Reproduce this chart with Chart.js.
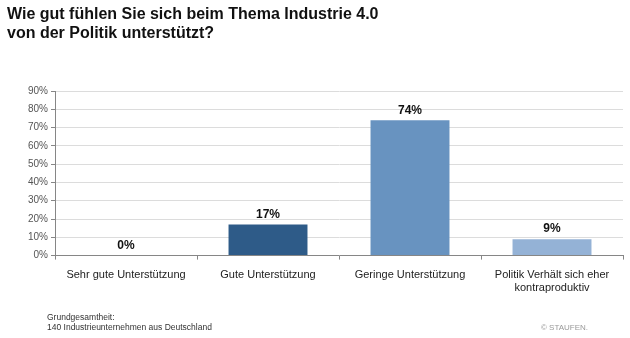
<!DOCTYPE html>
<html>
<head>
<meta charset="utf-8">
<script src="https://cdn.jsdelivr.net/npm/chart.js@4/dist/chart.umd.min.js"></script>
<style>
  html, body { margin: 0; padding: 0; background: #fff; }
  #wrap { position: relative; width: 630px; height: 338px; font-family: Arial, "Liberation Sans", sans-serif; }
  #title { position: absolute; left: 7px; top: 4px; font-size: 16px; font-weight: bold; color: #111; line-height: 19px; }
  #note { position: absolute; left: 47px; top: 312px; font-size: 8.5px; color: #333; line-height: 10px; }
  #copy { position: absolute; left: 541px; top: 323px; font-size: 8px; color: #999; }
  #chart { position: absolute; left: 0; top: 0; }
</style>
</head>
<body>
<div id="wrap">
  <canvas id="chart" width="630" height="338"></canvas>
  <div id="title">Wie gut fühlen Sie sich beim Thema Industrie 4.0<br>von der Politik unterstützt?</div>
  <div id="note">Grundgesamtheit:<br>140 Industrieunternehmen aus Deutschland</div>
  <div id="copy">© STAUFEN.</div>
</div>
<script>
const categories = [
    'Sehr gute Unterstützung',
    'Gute Unterstützung',
    'Geringe Unterstützung',
    ['Politik Verhält sich eher', 'kontraproduktiv']
];
const values = [0, 17, 74, 9];
const barColors = ['#1f4e79', '#2e5b88', '#6893c0', '#94b2d6'];
const yTicks = [0, 10, 20, 30, 40, 50, 60, 70, 80, 90];

// value labels above the bars
const valueLabels = {
    id: 'valueLabels',
    afterDatasetsDraw(chart) {
        const ctx = chart.ctx;
        const meta = chart.getDatasetMeta(0);
        ctx.save();
        ctx.font = 'bold 12px Arial, "Liberation Sans", sans-serif';
        ctx.fillStyle = '#111';
        ctx.textAlign = 'center';
        ctx.textBaseline = 'bottom';
        meta.data.forEach((bar, i) => {
            ctx.fillText(values[i] + '%', bar.x, bar.y - 4);
        });
        ctx.restore();
    }
};

new Chart(document.getElementById('chart'), {
    type: 'bar',
    data: {
        labels: categories,
        datasets: [{
            data: values,
            backgroundColor: barColors,
            borderWidth: 0,
            categoryPercentage: 1,
            barPercentage: 0.556
        }]
    },
    options: {
        responsive: false,
        animation: false,
        layout: { padding: { top: 91, right: 7, bottom: 34, left: 25 } },
        plugins: {
            legend: { display: false },
            tooltip: { enabled: false }
        },
        scales: {
            x: {
                grid: {
                    offset: true,
                    drawOnChartArea: false,
                    color: '#868686',
                    tickLength: 4
                },
                border: { color: '#868686' },
                ticks: {
                    color: '#222',
                    font: { family: 'Arial, "Liberation Sans", sans-serif', size: 11 },
                    maxRotation: 0,
                    autoSkip: false,
                    padding: 9
                }
            },
            y: {
                min: 0,
                max: 90,
                afterBuildTicks(scale) {
                    scale.ticks = yTicks.map(v => ({ value: v }));
                },
                grid: {
                    color: '#dcdcdc',
                    tickColor: '#868686',
                    tickLength: 4
                },
                border: { color: '#868686' },
                ticks: {
                    color: '#555',
                    font: { family: 'Arial, "Liberation Sans", sans-serif', size: 10 },
                    padding: 3,
                    callback: v => v + '%'
                }
            }
        }
    },
    plugins: [valueLabels]
});
</script>
</body>
</html>
